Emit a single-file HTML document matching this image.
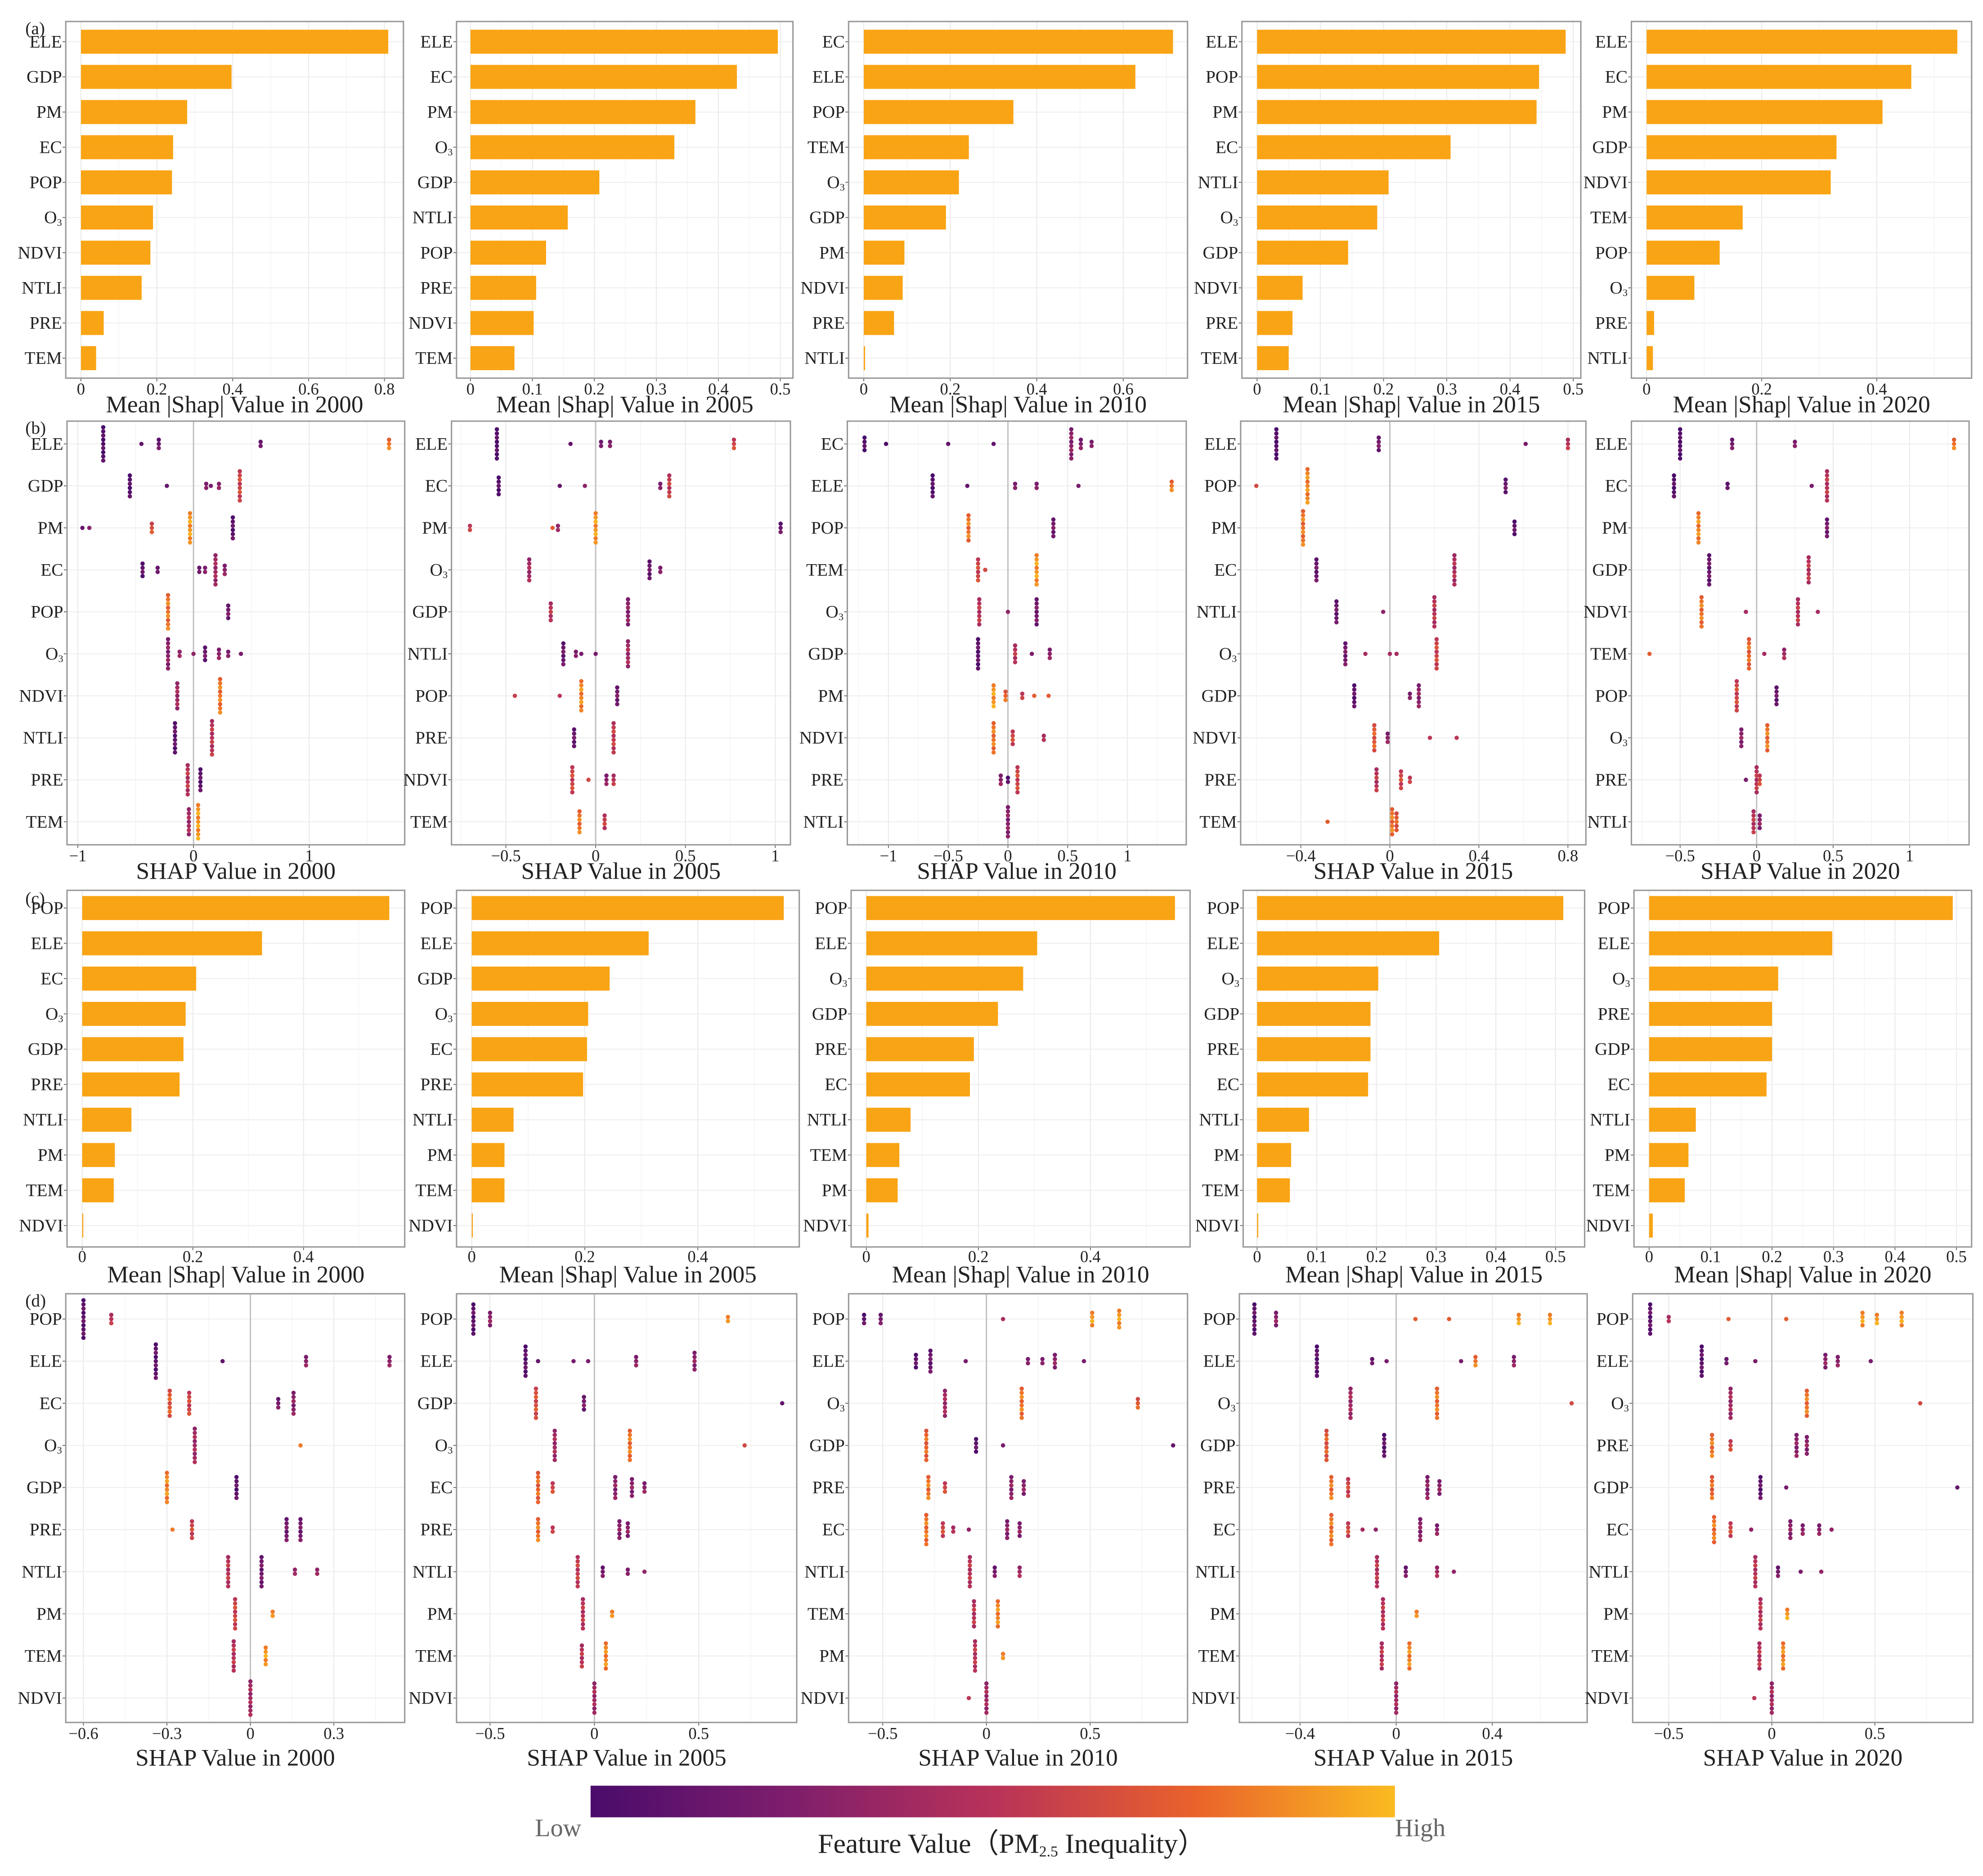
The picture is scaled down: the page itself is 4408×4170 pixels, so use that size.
<!DOCTYPE html>
<html><head><meta charset="utf-8">
<style>
html,body{margin:0;padding:0;background:#fff;}
svg{display:block;}
text{font-family:"Liberation Serif","DejaVu Serif",serif;fill:#222;}
</style></head>
<body>
<svg id="fig" xmlns="http://www.w3.org/2000/svg" width="4408" height="4170" viewBox="0 0 1568 1483.4" preserveAspectRatio="none">
<defs>
<linearGradient id="cmap" x1="0" x2="1" y1="0" y2="0">
<stop offset="0" stop-color="#4a0c6b"/><stop offset="0.25" stop-color="#7f1e6c"/><stop offset="0.5" stop-color="#b83259"/><stop offset="0.75" stop-color="#e9622b"/><stop offset="1" stop-color="#fbbb20"/>
</linearGradient>
</defs>
<rect x="0" y="0" width="1568" height="1483.4" fill="#fff"/>
<g id="root"></g>
<rect x="467" y="1412" width="636" height="25" fill="url(#cmap)"/>
<text x="423" y="1452" font-size="20" style="fill:#666">Low</text>
<text x="1103" y="1452" font-size="20" style="fill:#666">High</text>
<text x="800" y="1465" font-size="22" text-anchor="middle">Feature Value（PM<tspan font-size="12" dy="3">2.5</tspan><tspan dy="-3"> Inequality）</tspan></text>
</svg>
<script>
// ---------- Row (a) mean |SHAP| bar data ----------
const a2000Features=["ELE","GDP","PM","EC","POP","O3","NDVI","NTLI","PRE","TEM"];
const a2000Values=[0.81,0.397,0.28,0.243,0.24,0.19,0.183,0.16,0.06,0.04];
const a2005Features=["ELE","EC","PM","O3","GDP","NTLI","POP","PRE","NDVI","TEM"];
const a2005Values=[0.496,0.43,0.363,0.329,0.208,0.157,0.122,0.106,0.102,0.071];
const a2010Features=["EC","ELE","POP","TEM","O3","GDP","PM","NDVI","PRE","NTLI"];
const a2010Values=[0.715,0.628,0.346,0.243,0.22,0.19,0.094,0.09,0.07,0.003];
const a2015Features=["ELE","POP","PM","EC","NTLI","O3","GDP","NDVI","PRE","TEM"];
const a2015Values=[0.488,0.446,0.442,0.306,0.208,0.19,0.144,0.072,0.056,0.05];
const a2020Features=["ELE","EC","PM","GDP","NDVI","TEM","POP","O3","PRE","NTLI"];
const a2020Values=[0.54,0.46,0.41,0.33,0.32,0.167,0.127,0.083,0.013,0.011];
// ---------- Row (c) ----------
const c2000Features=["POP","ELE","EC","O3","GDP","PRE","NTLI","PM","TEM","NDVI"];
const c2000Values=[0.555,0.325,0.206,0.187,0.183,0.176,0.089,0.059,0.057,0.002];
const c2005Features=["POP","ELE","GDP","O3","EC","PRE","NTLI","PM","TEM","NDVI"];
const c2005Values=[0.552,0.313,0.244,0.206,0.204,0.197,0.074,0.058,0.058,0.002];
const c2010Features=["POP","ELE","O3","GDP","PRE","EC","NTLI","TEM","PM","NDVI"];
const c2010Values=[0.551,0.305,0.28,0.235,0.192,0.185,0.079,0.059,0.056,0.004];
const c2015Features=["POP","ELE","O3","GDP","PRE","EC","NTLI","PM","TEM","NDVI"];
const c2015Values=[0.513,0.305,0.203,0.19,0.19,0.186,0.087,0.057,0.055,0.002];
const c2020Features=["POP","ELE","O3","PRE","GDP","EC","NTLI","PM","TEM","NDVI"];
const c2020Values=[0.494,0.298,0.21,0.2,0.2,0.191,0.076,0.064,0.058,0.006];
// ---------- Tick arrays ----------
const aTicks2000=[0,0.2,0.4,0.6,0.8], aTickLabels2000=["0","0.2","0.4","0.6","0.8"];
const aTicks2005=[0,0.1,0.2,0.3,0.4,0.5], aTickLabels2005=["0","0.1","0.2","0.3","0.4","0.5"];
const aTicks2010=[0,0.2,0.4,0.6], aTickLabels2010=["0","0.2","0.4","0.6"];
const aTicks2015=[0,0.1,0.2,0.3,0.4,0.5], aTickLabels2015=["0","0.1","0.2","0.3","0.4","0.5"];
const aTicks2020=[0,0.2,0.4], aTickLabels2020=["0","0.2","0.4"];
const cTicks2000=[0,0.2,0.4], cTickLabels2000=["0","0.2","0.4"];
const cTicks2005=[0,0.2,0.4], cTickLabels2005=["0","0.2","0.4"];
const cTicks2010=[0,0.2,0.4], cTickLabels2010=["0","0.2","0.4"];
const cTicks2015=[0,0.1,0.2,0.3,0.4,0.5], cTickLabels2015=["0","0.1","0.2","0.3","0.4","0.5"];
const cTicks2020=[0,0.1,0.2,0.3,0.4,0.5], cTickLabels2020=["0","0.1","0.2","0.3","0.4","0.5"];
const bTicks2000=[-1,0,1], bTickLabels2000=["−1","0","1"];
const bTicks2005=[-0.5,0,0.5,1], bTickLabels2005=["−0.5","0","0.5","1"];
const bTicks2010=[-1,-0.5,0,0.5,1], bTickLabels2010=["−1","−0.5","0","0.5","1"];
const bTicks2015=[-0.4,0,0.4,0.8], bTickLabels2015=["−0.4","0","0.4","0.8"];
const bTicks2020=[-0.5,0,0.5,1], bTickLabels2020=["−0.5","0","0.5","1"];
const dTicks2000=[-0.6,-0.3,0,0.3], dTickLabels2000=["−0.6","−0.3","0","0.3"];
const dTicks2005=[-0.5,0,0.5], dTickLabels2005=["−0.5","0","0.5"];
const dTicks2010=[-0.5,0,0.5], dTickLabels2010=["−0.5","0","0.5"];
const dTicks2015=[-0.4,0,0.4], dTickLabels2015=["−0.4","0","0.4"];
const dTicks2020=[-0.5,0,0.5], dTickLabels2020=["−0.5","0","0.5"];
// ---------- Row (b) beeswarm clusters: [shap, count, featureValue] ----------
const b2000Points=[
[[-0.78,9,.05],[-0.45,1,.2],[-0.3,3,.15],[0.58,2,.2],[1.69,3,.8]],
[[-0.55,6,.05],[-0.23,1,.2],[0.11,2,.3],[0.15,1,.3],[0.22,2,.35],[0.40,8,.6]],
[[-0.96,1,.2],[-0.9,1,.35],[-0.36,3,.65],[-0.03,8,.9],[0.34,6,.1]],
[[-0.44,4,.1],[-0.31,2,.2],[0.05,2,.2],[0.1,2,.3],[0.19,8,.4],[0.27,3,.3]],
[[-0.22,9,.8],[0.3,4,.2]],
[[-0.22,8,.3],[-0.12,2,.4],[0,1,.4],[0.1,4,.15],[0.22,3,.3],[0.3,2,.3],[0.41,1,.3]],
[[-0.14,7,.4],[0.23,9,.8]],
[[-0.16,8,.1],[0.16,9,.5]],
[[-0.05,8,.5],[0.06,6,.1]],
[[-0.04,7,.4],[0.04,9,.9]]];
const b2005Points=[
[[-0.55,8,.05],[-0.14,1,.2],[0.03,2,.25],[0.08,2,.3],[0.77,3,.6]],
[[-0.54,5,.05],[-0.2,1,.2],[-0.06,1,.4],[0.36,2,.3],[0.41,6,.55]],
[[-0.7,2,.6],[-0.24,1,.8],[-0.21,2,.4],[0,8,.9],[1.03,3,.15]],
[[-0.37,6,.4],[0.3,5,.15],[0.36,2,.3]],
[[-0.25,5,.5],[0.18,7,.3]],
[[-0.18,6,.15],[-0.11,2,.3],[-0.08,1,.3],[0,1,.3],[0.18,7,.4]],
[[-0.45,1,.65],[-0.2,1,.6],[-0.08,8,.85],[0.12,5,.2]],
[[-0.12,5,.15],[0.1,8,.55]],
[[-0.13,7,.6],[-0.04,1,.7],[0.06,3,.3],[0.1,3,.5]],
[[-0.09,6,.8],[0.05,4,.55]]];
const b2010Points=[
[[-1.2,4,.05],[-1.02,1,.1],[-0.5,1,.2],[-0.12,1,.2],[0.53,8,.3],[0.61,3,.25],[0.7,2,.3]],
[[-0.63,6,.05],[-0.34,1,.2],[0.06,2,.3],[0.24,2,.3],[0.59,1,.3],[1.37,3,.8]],
[[-0.33,7,.8],[0.38,5,.2]],
[[-0.25,6,.6],[-0.19,1,.7],[0.24,8,.9]],
[[-0.24,7,.5],[0,1,.4],[0.24,7,.2]],
[[-0.25,8,.1],[0.06,5,.5],[0.2,1,.3],[0.35,3,.3]],
[[-0.12,6,.9],[-0.02,3,.75],[0.12,2,.6],[0.22,1,.8],[0.34,1,.8]],
[[-0.12,8,.8],[0.04,4,.6],[0.3,2,.5]],
[[-0.06,3,.3],[0,2,.1],[0.08,7,.6]],
[[0,8,.3]]];
const b2015Points=[
[[-0.51,8,.05],[-0.05,4,.2],[0.61,1,.3],[0.8,3,.5]],
[[-0.6,1,.7],[-0.37,9,.85],[0.52,4,.15]],
[[-0.39,9,.8],[0.56,4,.1]],
[[-0.33,6,.15],[0.29,8,.45]],
[[-0.24,6,.15],[-0.03,1,.4],[0.2,8,.5]],
[[-0.2,6,.2],[-0.11,1,.5],[0,1,.5],[0.03,1,.5],[0.21,8,.6]],
[[-0.16,6,.1],[0.09,2,.3],[0.13,6,.3]],
[[-0.07,7,.7],[-0.01,3,.3],[0.18,1,.6],[0.3,1,.6]],
[[-0.06,6,.5],[0.05,5,.6],[0.09,2,.6]],
[[-0.28,1,.8],[0.01,7,.8],[0.03,5,.7]]];
const b2020Points=[
[[-0.5,8,.05],[-0.16,3,.2],[0.25,2,.3],[1.29,3,.8]],
[[-0.54,6,.05],[-0.19,2,.15],[0.36,1,.3],[0.46,8,.5]],
[[-0.38,8,.85],[0.46,5,.2]],
[[-0.31,8,.15],[0.34,7,.5]],
[[-0.36,8,.8],[-0.07,1,.5],[0.27,7,.5],[0.4,1,.5]],
[[-0.7,1,.8],[-0.05,8,.75],[0.05,1,.5],[0.18,3,.4]],
[[-0.13,8,.6],[0.13,5,.15]],
[[-0.1,5,.3],[0.07,7,.8]],
[[-0.07,1,.3],[0,7,.5],[0.02,3,.6]],
[[-0.02,6,.5],[0.02,4,.3]]];
// ---------- Row (d) beeswarm clusters ----------
const d2000Points=[
[[-0.6,10,.1],[-0.5,3,.5]],
[[-0.34,9,.1],[-0.1,1,.2],[0.2,3,.3],[0.5,3,.3]],
[[-0.29,7,.7],[-0.22,6,.6],[0.1,3,.2],[0.155,6,.3]],
[[-0.2,9,.4],[0.18,1,.9]],
[[-0.3,8,.85],[-0.05,6,.1]],
[[-0.28,1,.9],[-0.21,5,.6],[0.13,6,.2],[0.18,6,.2]],
[[-0.08,8,.5],[0.04,8,.2],[0.16,2,.4],[0.24,2,.4]],
[[-0.055,8,.6],[0.08,2,.9]],
[[-0.06,8,.5],[0.055,5,.9]],
[[0,9,.4]]];
const d2005Points=[
[[-0.58,8,.1],[-0.5,4,.3],[0.64,2,.9]],
[[-0.33,8,.1],[-0.27,1,.2],[-0.1,1,.3],[-0.03,1,.3],[0.2,3,.3],[0.48,5,.3]],
[[-0.28,8,.65],[-0.05,4,.2],[0.9,1,.2]],
[[-0.19,8,.4],[0.17,8,.8],[0.72,1,.7]],
[[-0.27,8,.75],[-0.2,3,.6],[0.1,6,.3],[0.18,5,.3],[0.24,3,.3]],
[[-0.27,6,.8],[-0.2,2,.6],[0.12,5,.3],[0.16,4,.3]],
[[-0.08,8,.55],[0.04,3,.2],[0.16,2,.3],[0.24,1,.4]],
[[-0.055,8,.5],[0.085,2,.9]],
[[-0.06,6,.5],[0.055,7,.85]],
[[0,8,.4]]];
const d2010Points=[
[[-0.59,3,.1],[-0.51,3,.2],[0.08,1,.5],[0.51,4,.9],[0.64,5,.9]],
[[-0.34,4,.1],[-0.27,6,.15],[-0.1,1,.3],[0.2,2,.3],[0.27,2,.3],[0.33,4,.3],[0.47,1,.3]],
[[-0.2,7,.4],[0.17,8,.8],[0.73,3,.7]],
[[-0.29,8,.75],[-0.05,4,.1],[0.08,1,.3],[0.9,1,.2]],
[[-0.28,6,.8],[-0.2,3,.6],[0.12,6,.3],[0.18,4,.3]],
[[-0.29,8,.8],[-0.21,4,.6],[-0.16,2,.5],[-0.085,1,.4],[0.1,5,.3],[0.16,4,.3]],
[[-0.08,8,.5],[0.04,3,.2],[0.16,3,.4]],
[[-0.06,7,.5],[0.055,7,.85]],
[[-0.055,8,.5],[0.08,2,.9]],
[[-0.085,1,.6],[0,8,.4]]];
const d2015Points=[
[[-0.59,8,.1],[-0.5,4,.3],[0.08,1,.8],[0.22,1,.8],[0.51,3,.9],[0.64,3,.9]],
[[-0.33,8,.1],[-0.1,2,.2],[-0.04,1,.3],[0.27,1,.3],[0.33,3,.8],[0.49,3,.3]],
[[-0.19,8,.4],[0.17,8,.8],[0.73,1,.7]],
[[-0.29,8,.7],[-0.05,6,.1]],
[[-0.27,6,.8],[-0.2,5,.6],[0.13,6,.3],[0.18,4,.3]],
[[-0.27,8,.8],[-0.2,4,.6],[-0.14,1,.5],[-0.085,1,.4],[0.1,6,.3],[0.17,3,.3]],
[[-0.08,8,.5],[0.04,3,.2],[0.17,3,.4],[0.24,1,.4]],
[[-0.055,8,.5],[0.085,2,.9]],
[[-0.06,7,.5],[0.055,7,.85]],
[[0,8,.4]]];
const d2020Points=[
[[-0.59,8,.1],[-0.5,2,.5],[-0.21,1,.8],[0.07,1,.8],[0.44,4,.9],[0.51,3,.9],[0.63,4,.9]],
[[-0.34,8,.1],[-0.22,2,.2],[-0.08,1,.3],[0.26,4,.3],[0.32,3,.3],[0.48,1,.3]],
[[-0.2,8,.4],[0.17,7,.8],[0.72,1,.7]],
[[-0.29,6,.8],[-0.2,3,.6],[0.12,6,.3],[0.17,5,.3]],
[[-0.29,6,.75],[-0.055,6,.1],[0.07,1,.3],[0.9,1,.2]],
[[-0.28,7,.8],[-0.2,4,.6],[-0.1,1,.4],[0.09,5,.3],[0.15,3,.3],[0.23,3,.3],[0.29,1,.4]],
[[-0.08,8,.5],[0.03,3,.2],[0.14,1,.3],[0.24,1,.4]],
[[-0.055,8,.5],[0.075,3,.9]],
[[-0.06,7,.5],[0.055,7,.85]],
[[-0.085,1,.6],[0,8,.4]]];

// ---------- helpers ----------
const NS="http://www.w3.org/2000/svg";
const root=document.getElementById('root');
function mk(tag,attrs,parent){const e=document.createElementNS(NS,tag);for(const k in attrs)e.setAttribute(k,attrs[k]);(parent||root).appendChild(e);return e;}
const stops=[[0,[74,12,107]],[0.25,[127,30,108]],[0.5,[184,50,89]],[0.75,[233,98,43]],[1,[251,187,32]]];
function cmap(t){for(let i=1;i<stops.length;i++){if(t<=stops[i][0]){const a=stops[i-1],b=stops[i];const f=(t-a[0])/(b[0]-a[0]);const c=a[1].map((v,j)=>Math.round(v+(b[1][j]-v)*f));return `rgb(${c[0]},${c[1]},${c[2]})`;}}return 'rgb(251,187,32)';}
function makeX(zero,ppu){return v=>zero+v*ppu;}
function makeY(first,step){return i=>first+i*step;}
function featLabel(g,name,x,y){
  const t=mk('text',{x:x,y:y+4.5,'font-size':14,'text-anchor':'end'},g);
  
  
  if(name==="O3"){t.textContent="O";const s=mk('tspan',{'font-size':8,dy:2},t);s.textContent="3";}
  else t.textContent=name;
}
function frame(g,L,R,T,B,xs,ticks,labels,ys,n,title,tickY,titleY){
  for(let i=0;i<ticks.length;i++){
    const xv=xs(ticks[i]);
    mk('line',{x1:xv,x2:xv,y1:T,y2:B,stroke:'#ebebeb','stroke-width':0.8},g);
    if(i<ticks.length-1){const xm=xs((ticks[i]+ticks[i+1])/2);mk('line',{x1:xm,x2:xm,y1:T,y2:B,stroke:'#f4f4f4','stroke-width':0.6},g);}
  }
  const step=ticks[1]-ticks[0];
  const before=xs(ticks[0]-step/2); if(before>L) mk('line',{x1:before,x2:before,y1:T,y2:B,stroke:'#f4f4f4','stroke-width':0.6},g);
  const after=xs(ticks[ticks.length-1]+step/2); if(after<R) mk('line',{x1:after,x2:after,y1:T,y2:B,stroke:'#f4f4f4','stroke-width':0.6},g);
  for(let i=0;i<n;i++){mk('line',{x1:L,x2:R,y1:ys(i),y2:ys(i),stroke:'#efefef','stroke-width':0.8},g);}
  for(let i=0;i<ticks.length;i++){
    const t=mk('text',{x:xs(ticks[i]),y:tickY,'font-size':13,'text-anchor':'middle'},g);
    
    
    t.textContent=labels[i];
    mk('line',{x1:xs(ticks[i]),x2:xs(ticks[i]),y1:B,y2:B+2.5,stroke:'#555','stroke-width':0.6},g);
  }
  const tt=mk('text',{x:(L+R)/2,y:titleY,'font-size':19,'text-anchor':'middle'},g);
  
  
  tt.textContent=title;
}
function barPanel(name,L,R,T,B,zero,ppu,first,step,feats,vals,ticks,labels,title,tickY,titleY){
  const g=mk('g',{});
  
  
  const xs=makeX(zero,ppu), ys=makeY(first,step);
  frame(g,L,R,T,B,xs,ticks,labels,ys,feats.length,title,tickY,titleY);
  for(let i=0;i<feats.length;i++){
    const r=mk('rect',{x:xs(0),y:ys(i)-9.5,width:Math.max(0.6,xs(vals[i])-xs(0)),height:19,fill:'#f9a414'},g);
    
    
    featLabel(g,feats[i],L-3,ys(i));
    mk('line',{x1:L-2.5,x2:L,y1:ys(i),y2:ys(i),stroke:'#555','stroke-width':0.6},g);
  }
  mk('rect',{x:L,y:T,width:R-L,height:B-T,fill:'none',stroke:'#999','stroke-width':1.1},g);
}
function swarmPanel(name,L,R,T,B,zero,ppu,first,step,feats,pts,ticks,labels,title,tickY,titleY){
  const g=mk('g',{});
  
  
  const xs=makeX(zero,ppu), ys=makeY(first,step);
  frame(g,L,R,T,B,xs,ticks,labels,ys,feats.length,title,tickY,titleY);
  mk('line',{x1:xs(0),x2:xs(0),y1:T,y2:B,stroke:'#bdbdbd','stroke-width':1},g);
  for(let i=0;i<feats.length;i++){
    featLabel(g,feats[i],L-3,ys(i));
    mk('line',{x1:L-2.5,x2:L,y1:ys(i),y2:ys(i),stroke:'#555','stroke-width':0.6},g);
    for(const c of pts[i]){
      const n=c[1];
      for(let k=0;k<n;k++){
        const cy=ys(i)+(k-(n-1)/2)*3.3;
        const fv=Math.min(1,Math.max(0,c[2]+((k%3)-1)*0.08));
        const d=mk('circle',{cx:xs(c[0]),cy:cy,r:1.7,fill:cmap(fv)},g);
        
        
      }
    }
  }
  mk('rect',{x:L,y:T,width:R-L,height:B-T,fill:'none',stroke:'#999','stroke-width':1.1},g);
}
// ---------- Row (a) ----------
barPanel('bar-panel-a-2000',52,319,17,299,64,300,33,27.8,a2000Features,a2000Values,aTicks2000,aTickLabels2000,'Mean |Shap| Value in 2000',312,326);
barPanel('bar-panel-a-2005',361,627,17,299,372,490,33,27.8,a2005Features,a2005Values,aTicks2005,aTickLabels2005,'Mean |Shap| Value in 2005',312,326);
barPanel('bar-panel-a-2010',671,939,17,299,683,342,33,27.8,a2010Features,a2010Values,aTicks2010,aTickLabels2010,'Mean |Shap| Value in 2010',312,326);
barPanel('bar-panel-a-2015',982,1250,17,299,994,500,33,27.8,a2015Features,a2015Values,aTicks2015,aTickLabels2015,'Mean |Shap| Value in 2015',312,326);
barPanel('bar-panel-a-2020',1290,1559,17,299,1302,455,33,27.8,a2020Features,a2020Values,aTicks2020,aTickLabels2020,'Mean |Shap| Value in 2020',312,326);
// ---------- Row (b) ----------
swarmPanel('swarm-panel-b-2000',53,320,333,668,153,91.5,351,33.2,a2000Features,b2000Points,bTicks2000,bTickLabels2000,'SHAP Value in 2000',681,695);
swarmPanel('swarm-panel-b-2005',357,625,333,668,471,142,351,33.2,a2005Features,b2005Points,bTicks2005,bTickLabels2005,'SHAP Value in 2005',681,695);
swarmPanel('swarm-panel-b-2010',670,938,333,668,797,94.5,351,33.2,a2010Features,b2010Points,bTicks2010,bTickLabels2010,'SHAP Value in 2010',681,695);
swarmPanel('swarm-panel-b-2015',981,1254,333,668,1099,176,351,33.2,a2015Features,b2015Points,bTicks2015,bTickLabels2015,'SHAP Value in 2015',681,695);
swarmPanel('swarm-panel-b-2020',1290,1557,333,668,1389,121,351,33.2,a2020Features,b2020Points,bTicks2020,bTickLabels2020,'SHAP Value in 2020',681,695);
// ---------- Row (c) ----------
barPanel('bar-panel-c-2000',53,320,704,986,65,437.5,718,27.9,c2000Features,c2000Values,cTicks2000,cTickLabels2000,'Mean |Shap| Value in 2000',998,1014);
barPanel('bar-panel-c-2005',361,632,704,986,373,447,718,27.9,c2005Features,c2005Values,cTicks2005,cTickLabels2005,'Mean |Shap| Value in 2005',998,1014);
barPanel('bar-panel-c-2010',673,941,704,986,685,443,718,27.9,c2010Features,c2010Values,cTicks2010,cTickLabels2010,'Mean |Shap| Value in 2010',998,1014);
barPanel('bar-panel-c-2015',983,1253,704,986,994,472,718,27.9,c2015Features,c2015Values,cTicks2015,cTickLabels2015,'Mean |Shap| Value in 2015',998,1014);
barPanel('bar-panel-c-2020',1292,1559,704,986,1304,486,718,27.9,c2020Features,c2020Values,cTicks2020,cTickLabels2020,'Mean |Shap| Value in 2020',998,1014);
// ---------- Row (d) ----------
swarmPanel('swarm-panel-d-2000',52,320,1023,1362,198,220,1043,33.3,c2000Features,d2000Points,dTicks2000,dTickLabels2000,'SHAP Value in 2000',1375,1396);
swarmPanel('swarm-panel-d-2005',361,630,1023,1362,470,165,1043,33.3,c2005Features,d2005Points,dTicks2005,dTickLabels2005,'SHAP Value in 2005',1375,1396);
swarmPanel('swarm-panel-d-2010',671,939,1023,1362,780,164,1043,33.3,c2010Features,d2010Points,dTicks2010,dTickLabels2010,'SHAP Value in 2010',1375,1396);
swarmPanel('swarm-panel-d-2015',980,1255,1023,1362,1104,190,1043,33.3,c2015Features,d2015Points,dTicks2015,dTickLabels2015,'SHAP Value in 2015',1375,1396);
swarmPanel('swarm-panel-d-2020',1291,1560,1023,1362,1401,163,1043,33.3,c2020Features,d2020Points,dTicks2020,dTickLabels2020,'SHAP Value in 2020',1375,1396);
// panel letters
[["(a)",18],["(b)",334],["(c)",706],["(d)",1024]].forEach(p=>{
  const t=mk('text',{x:20,y:p[1]+9,'font-size':14});
  
  
  t.textContent=p[0];
});
</script>
</body></html>
